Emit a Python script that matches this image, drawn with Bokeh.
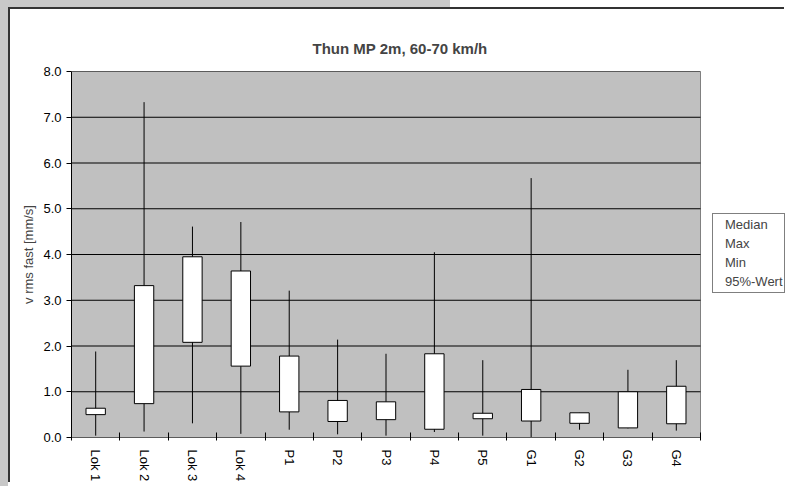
from bokeh.plotting import figure
from bokeh.models import (Range1d, FixedTicker, NumeralTickFormatter, Legend, LegendItem,
                          ColumnDataSource)
from bokeh.embed import file_html
from bokeh.resources import INLINE

# ---- data ----
categories = ["Lok 1", "Lok 2", "Lok 3", "Lok 4", "P1", "P2", "P3", "P4", "P5",
              "G1", "G2", "G3", "G4"]
median = [0.50, 0.74, 2.08, 1.56, 0.56, 0.35, 0.39, 0.18, 0.41, 0.36, 0.31, 0.21, 0.30]
p95    = [0.64, 3.32, 3.95, 3.64, 1.78, 0.81, 0.78, 1.83, 0.53, 1.05, 0.54, 1.00, 1.12]
vmax   = [1.88, 7.33, 4.61, 4.71, 3.21, 2.14, 1.83, 4.05, 1.69, 5.67, 0.54, 1.48, 1.69]
vmin   = [0.04, 0.13, 0.31, 0.08, 0.17, 0.07, 0.04, 0.12, 0.04, 0.01, 0.17, 0.20, 0.15]
y_ticks = [0, 1, 2, 3, 4, 5, 6, 7, 8]
legend_labels = ["Median", "Max", "Min", "95%-Wert"]
title_text = "Thun MP 2m, 60-70 km/h"
y_label = "v rms fast [mm/s]"

FONT = "Liberation Sans"

# ---- layout constants (pixels) ----
FIG_W, FIG_H = 776, 475
BORDER_L, BORDER_T, BORDER_B = 61, 62, 47
PLOT_AREA_W = 629          # width of the grey plot area
FRAME_W = FIG_W - BORDER_L  # frame runs to the right edge (room for legend)

n = len(categories)
x_lo, x_hi = 0.5, n + 0.5
x_end = x_lo + n * FRAME_W / PLOT_AREA_W
y_lo, y_hi = y_ticks[0], y_ticks[-1]

xpos = list(range(1, n + 1))
src = ColumnDataSource(dict(x=xpos, med=median, p95=p95, vmax=vmax, vmin=vmin))

p = figure(width=FIG_W, height=FIG_H, output_backend="svg", toolbar_location=None,
           x_range=Range1d(x_lo, x_end), y_range=Range1d(y_lo, y_hi),
           min_border_left=BORDER_L, min_border_top=BORDER_T, min_border_right=0,
           min_border_bottom=BORDER_B)
p.styles = {"margin-left": "8px", "margin-top": "7px",
            "border-left": "2px solid #333333", "border-top": "2px solid #333333"}

p.background_fill_color = "#FFFFFF"
p.border_fill_color = "#FFFFFF"
p.outline_line_color = None

# grey plot area
p.quad(left=[x_lo], right=[x_hi], bottom=[y_lo], top=[y_hi],
       fill_color="#C0C0C0", line_color="#808080", line_width=1)

# title
p.title.text = title_text
p.title.align = "left"
p.title.offset = 241
p.title.text_font = FONT
p.title.text_font_size = "15px"
p.title.text_font_style = "bold"
p.title.standoff = 30

# horizontal grid lines (only across the grey area)
p.xgrid.grid_line_color = None
p.ygrid.grid_line_color = None
p.segment(x0=[x_lo] * len(y_ticks), y0=y_ticks, x1=[x_hi] * len(y_ticks), y1=y_ticks,
          line_color="#000000", line_width=1)

# y axis
p.yaxis.ticker = FixedTicker(ticks=y_ticks)
p.yaxis.formatter = NumeralTickFormatter(format="0.0")
p.yaxis.axis_line_color = "#000000"
p.yaxis.major_tick_line_color = "#000000"
p.yaxis.major_tick_in = 0
p.yaxis.major_tick_out = 5
p.yaxis.minor_tick_line_color = None
p.yaxis.major_label_text_font = FONT
p.yaxis.major_label_text_font_size = "13px"
p.yaxis.major_label_text_color = "#000000"
p.yaxis.major_label_standoff = 5
p.yaxis.axis_label = y_label
p.yaxis.axis_label_text_font = FONT
p.yaxis.axis_label_text_font_size = "13px"
p.yaxis.axis_label_text_font_style = "normal"
p.yaxis.axis_label_standoff = 4

# x axis: labels at centres, tick marks at category boundaries
p.xaxis.ticker = FixedTicker(ticks=xpos, minor_ticks=[i + 0.5 for i in range(0, n + 1)])
p.xaxis.major_label_overrides = {i: c for i, c in zip(xpos, categories)}
p.xaxis.major_label_orientation = "vertical"
p.xaxis.major_tick_line_color = None
p.xaxis.major_tick_in = 0
p.xaxis.major_tick_out = 0
p.xaxis.minor_tick_line_color = "#000000"
p.xaxis.minor_tick_in = 5
p.xaxis.minor_tick_out = 3
p.xaxis.axis_line_color = None
p.xaxis.major_label_text_font = FONT
p.xaxis.major_label_text_font_size = "13px"
p.xaxis.major_label_text_color = "#000000"
p.xaxis.major_label_standoff = 9

# whiskers and boxes
p.segment(x0="x", y0="vmin", x1="x", y1="vmax", source=src, line_color="#000000", line_width=1)
p.vbar(x="x", width=0.4, bottom="med", top="p95", source=src,
       fill_color="#FFFFFF", line_color="#000000", line_width=1)

# legend (no symbols, like the original)
dummies = [p.line(x=[], y=[], line_alpha=0) for _ in legend_labels]
items = [LegendItem(label=lab, renderers=[r]) for lab, r in zip(legend_labels, dummies)]
legend = Legend(items=items, location=(PLOT_AREA_W + 12, 144))
legend.glyph_width = 1
legend.glyph_height = 19
legend.label_height = 19
legend.label_standoff = 10
legend.padding = 1
legend.spacing = 0
legend.margin = 0
legend.label_text_font = FONT
legend.label_text_font_size = "13px"
legend.border_line_color = "#000000"
legend.border_line_width = 1
legend.background_fill_color = "#FFFFFF"
legend.background_fill_alpha = 1
p.add_layout(legend)

html = file_html(p, INLINE)
css = ('<style>html, body { background: '
       'linear-gradient(to right, #c8c8c8 450px, #ffffff 450px) left top / 100% 8px no-repeat, '
       'linear-gradient(#c8c8c8, #c8c8c8) left top / 8px 100% no-repeat, #ffffff !important; }'
       '</style>')
head, sep, tail = html.rpartition("</head>")
if sep:
    html = head + css + sep + tail
open("out.html", "w").write(html)
